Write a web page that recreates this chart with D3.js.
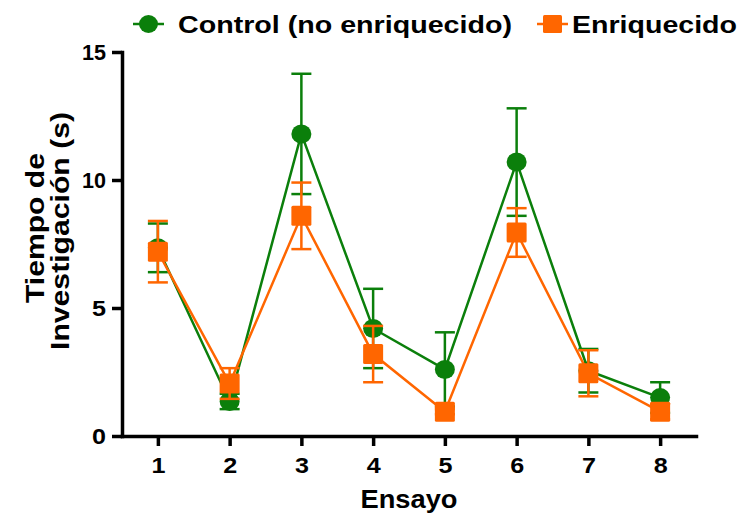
<!DOCTYPE html>
<html>
<head>
<meta charset="utf-8">
<script src="https://cdn.jsdelivr.net/npm/d3@7"></script>
<style>
  body { margin: 0; background: #fff; }
  text { font-family: "Liberation Sans", Arial, sans-serif; font-weight: bold; fill: #000; }
</style>
</head>
<body>
<div id="chart-container"></div>
<script>
const trials = [1, 2, 3, 4, 5, 6, 7, 8];
const controlMean = [7.35, 1.35, 11.8, 4.2, 2.6, 10.7, 2.55, 1.5];
const controlSem = [0.95, 0.3, 2.35, 1.55, 1.45, 2.1, 0.85, 0.6];
const enrichedMean = [7.2, 2.05, 8.6, 3.2, 0.95, 7.95, 2.45, 0.95];
const enrichedSem = [1.2, 0.6, 1.3, 1.1, 0.1, 0.95, 0.9, 0.3];
const yTicks = [0, 5, 10, 15];
const seriesNames = ["Control (no enriquecido)", "Enriquecido"];

const W = 740, H = 516;
const green = "#0b7f0b", orange = "#ff6600";

const svg = d3.select("#chart-container").append("svg")
  .attr("width", W).attr("height", H);

const x = d3.scaleLinear().domain([0.5, 8.5]).range([122, 696]);
const y = d3.scaleLinear().domain([0, 15]).range([436, 52]);

// axes
const xAxis = svg.append("g")
  .attr("transform", `translate(0,${y(0)})`)
  .call(d3.axisBottom(x).tickValues(trials).tickSize(10).tickSizeOuter(0).tickPadding(11));
const yAxis = svg.append("g")
  .attr("transform", `translate(${x(0.5)},0)`)
  .call(d3.axisLeft(y).tickValues(yTicks).tickSize(10).tickSizeOuter(0).tickPadding(6));

[xAxis, yAxis].forEach(a => {
  a.select(".domain").attr("stroke", "#000").attr("stroke-width", 3.5).attr("stroke-linecap", "square");
  a.selectAll(".tick line").attr("stroke", "#000").attr("stroke-width", 3.5);
  a.selectAll(".tick text").style("font-size", "22px").attr("fill", "#000")
    .attr("textLength", d => String(d).length > 1 ? 24 : 14)
    .attr("lengthAdjust", "spacingAndGlyphs");
});

// axis titles
svg.append("text")
  .attr("x", x(4.5)).attr("y", 508)
  .attr("text-anchor", "middle")
  .style("font-size", "25px")
  .attr("textLength", 97).attr("lengthAdjust", "spacingAndGlyphs")
  .text("Ensayo");

svg.append("text")
  .attr("transform", "translate(44,228) rotate(-90)")
  .attr("text-anchor", "middle")
  .style("font-size", "26px")
  .attr("textLength", 150).attr("lengthAdjust", "spacingAndGlyphs")
  .text("Tiempo de");
svg.append("text")
  .attr("transform", "translate(69,231) rotate(-90)")
  .attr("text-anchor", "middle")
  .style("font-size", "26px")
  .attr("textLength", 238).attr("lengthAdjust", "spacingAndGlyphs")
  .text("Investigación (s)");

function drawSeries(means, sems, color, shape) {
  const data = trials.map((t, i) => ({ t, m: means[i], s: sems[i] }));
  const g = svg.append("g");
  g.append("path").datum(data)
    .attr("fill", "none").attr("stroke", color).attr("stroke-width", 2.5)
    .attr("d", d3.line().x(d => x(d.t)).y(d => y(d.m)));

  const eb = g.selectAll(".eb").data(data).enter().append("g")
    .attr("stroke", color).attr("stroke-width", 2.5);
  eb.append("line")
    .attr("x1", d => x(d.t)).attr("x2", d => x(d.t))
    .attr("y1", d => y(d.m - d.s)).attr("y2", d => y(d.m + d.s));
  eb.append("line")
    .attr("x1", d => x(d.t) - 10).attr("x2", d => x(d.t) + 10)
    .attr("y1", d => y(d.m + d.s)).attr("y2", d => y(d.m + d.s));
  eb.append("line")
    .attr("x1", d => x(d.t) - 10).attr("x2", d => x(d.t) + 10)
    .attr("y1", d => y(d.m - d.s)).attr("y2", d => y(d.m - d.s));

  if (shape === "circle") {
    g.selectAll(".mk").data(data).enter().append("ellipse")
      .attr("cx", d => x(d.t)).attr("cy", d => y(d.m))
      .attr("rx", 10).attr("ry", 9.5).attr("fill", color);
  } else {
    g.selectAll(".mk").data(data).enter().append("rect")
      .attr("x", d => x(d.t) - 10).attr("y", d => y(d.m) - 10)
      .attr("width", 20).attr("height", 20).attr("rx", 1.5).attr("fill", color);
  }
}

drawSeries(controlMean, controlSem, green, "circle");
drawSeries(enrichedMean, enrichedSem, orange, "square");

// legend
const leg = svg.append("g");
leg.append("line").attr("x1", 133).attr("x2", 164).attr("y1", 24).attr("y2", 24)
  .attr("stroke", green).attr("stroke-width", 2.5);
leg.append("ellipse").attr("cx", 148.5).attr("cy", 24).attr("rx", 9.5).attr("ry", 9).attr("fill", green);
leg.append("text").attr("x", 178).attr("y", 33)
  .style("font-size", "23px")
  .attr("textLength", 334).attr("lengthAdjust", "spacingAndGlyphs")
  .text(seriesNames[0]);

leg.append("line").attr("x1", 537).attr("x2", 568).attr("y1", 24).attr("y2", 24)
  .attr("stroke", orange).attr("stroke-width", 2.5);
leg.append("rect").attr("x", 543).attr("y", 15).attr("width", 19).attr("height", 18)
  .attr("rx", 1.5).attr("fill", orange);
leg.append("text").attr("x", 572).attr("y", 33)
  .style("font-size", "23px")
  .attr("textLength", 165).attr("lengthAdjust", "spacingAndGlyphs")
  .text(seriesNames[1]);
</script>
</body>
</html>
